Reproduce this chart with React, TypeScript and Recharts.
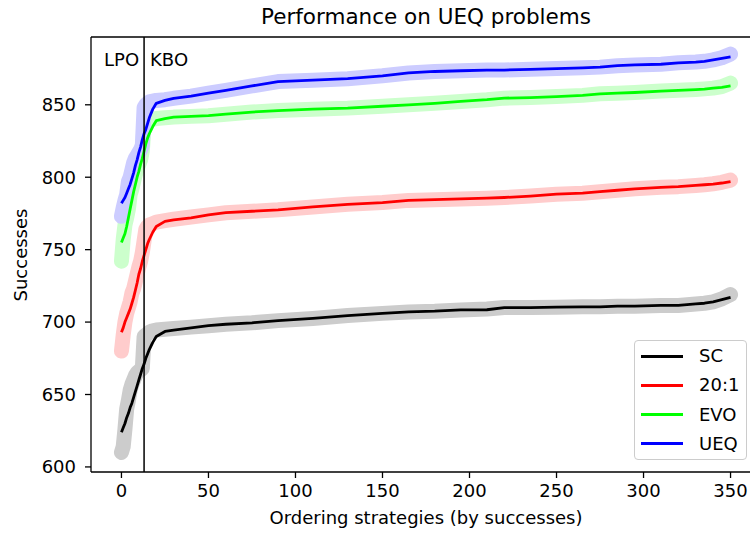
import React from 'react';
import {
  ComposedChart,
  Line,
  XAxis,
  YAxis,
  ReferenceLine,
} from 'recharts';

// ordering strategies, sorted by successes (sampled positions)
const xPositions = [
  0, 1, 2, 3, 4, 5, 6, 7, 8, 9, 10, 11, 12, 13, 14, 15, 16,
  18, 20, 25, 30, 40, 50, 60, 75, 90,
  110, 130, 150, 165, 180, 195, 210, 220, 235, 250,
  265, 275, 285, 295, 310, 320, 330, 335, 340, 345, 350,
];

// raw successes (scatter band)
const scDots = [
  610, 614, 626, 640, 646, 653, 657, 660, 663, 665, 666, 667, 668, 690, 691, 692, 693,
  694, 694.5, 695, 695.5, 696.5, 697.5, 698.5, 699.5, 701,
  702.5, 704.5, 706, 707, 707.5, 708.4, 709, 710, 710, 710.3,
  710.5, 710.5, 711, 711, 711.5, 711.5, 712.5, 713, 714, 716, 719,
];
const ratioDots = [
  680, 691, 700, 706, 710, 714, 720, 723, 728, 733, 738, 742, 748, 756, 764, 766, 767,
  768, 769, 770, 771, 772.5, 774, 775.5, 776.5, 777.5,
  779.5, 781.3, 782.5, 784, 784.5, 785, 785.5, 786, 787, 788.3,
  789, 790, 791, 792, 793, 793.5, 794.3, 794.8, 795.5, 796.5, 798,
];
const evoDots = [
  742, 757, 767, 772, 778, 788, 792, 797, 802, 806, 809, 812, 818, 836, 838, 839, 839.5,
  840, 840.5, 841, 841.5, 842, 842.5, 843.5, 845, 846,
  847, 847.7, 849, 850, 851, 852.3, 853.5, 854.6, 855, 855.7,
  856.5, 857.6, 858, 858.5, 859.5, 860, 860.5, 861, 861.5, 862.5, 865,
];
const ueqDots = [
  773, 779, 784, 788, 797, 800, 805, 810, 813, 815, 817, 819, 822, 848, 850, 851, 852,
  852.5, 853, 853.5, 854.5, 856, 858, 860, 863, 866,
  867, 868, 870, 872, 873, 873.5, 874, 874, 874.5, 875,
  875.5, 876, 877, 877.5, 878, 879, 879.5, 880, 881, 882.5, 885,
];

// smoothed curves
const scLine = [
  624, 627, 630, 634, 637, 641, 644, 648, 652, 656, 660, 664, 668, 671, 675, 678, 681,
  686, 690, 693.5, 694.5, 696, 697.5, 698.5, 699.5, 701,
  702.5, 704.5, 706, 707, 707.5, 708.4, 708.5, 710, 710, 710.3,
  710.5, 710.5, 711, 711, 711.5, 711.5, 712.5, 713, 714, 715.5, 717,
];
const ratioLine = [
  693, 696, 700, 703, 706, 709, 713, 717, 722, 727, 733, 737, 742, 746, 750, 754, 757,
  762, 766, 769.5, 770.5, 772, 774, 775.5, 776.5, 777.5,
  779.5, 781.3, 782.5, 784, 784.5, 785, 785.5, 786, 787, 788.3,
  789, 790, 791, 792, 793, 793.5, 794.3, 794.8, 795.3, 796, 797,
];
const evoLine = [
  755, 758, 761, 766, 772, 778, 784, 790, 795, 800, 804, 809, 813, 818, 823, 827, 830,
  835, 839, 840.5, 841.5, 842, 842.5, 843.5, 845, 846,
  847, 847.7, 849, 850, 851, 852.3, 853.5, 854.6, 855, 855.7,
  856.5, 857.6, 858, 858.5, 859.5, 860, 860.5, 860.8, 861.5, 862, 863,
];
const ueqLine = [
  782, 784, 786, 789, 792, 795, 799, 803, 808, 812, 817, 821, 826, 830, 833, 837, 841,
  847, 851, 853, 854.5, 856, 858, 860, 863, 866,
  867, 868, 870, 872, 873, 873.5, 874, 874, 874.5, 875,
  875.5, 876, 877, 877.5, 878, 879, 879.5, 880, 881, 882, 883,
];

const xTicks = [0, 50, 100, 150, 200, 250, 300, 350];
const yTicks = [600, 650, 700, 750, 800, 850];
const xDomain = [-17.5, 367.5];
const yDomain = [596.5, 896.8];
const splitAt = 13;

const series = [
  { name: 'SC', dot: 'scDot', line: 'scLine', color: '#000000', light: '#cccccc' },
  { name: '20:1', dot: 'ratioDot', line: 'ratioLine', color: '#ff0000', light: '#ffcccc' },
  { name: 'EVO', dot: 'evoDot', line: 'evoLine', color: '#00ff00', light: '#ccffcc' },
  { name: 'UEQ', dot: 'ueqDot', line: 'ueqLine', color: '#0000ff', light: '#ccccff' },
];

const chartData = xPositions.map((x, i) => ({
  x,
  scDot: scDots[i],
  ratioDot: ratioDots[i],
  evoDot: evoDots[i],
  ueqDot: ueqDots[i],
  scLine: scLine[i],
  ratioLine: ratioLine[i],
  evoLine: evoLine[i],
  ueqLine: ueqLine[i],
}));

const FONT = '"DejaVu Sans", sans-serif';
const tickStyle = { fontFamily: FONT, fontSize: 18, fill: '#000' };

function SplitLabel(props: any) {
  const { viewBox } = props;
  const x = viewBox.x;
  const y = viewBox.y + 29;
  return (
    <g fontFamily={FONT} fontSize={18} fill="#000">
      <text x={x - 5} y={y} textAnchor="end">LPO</text>
      <text x={x + 6} y={y} textAnchor="start">KBO</text>
    </g>
  );
}

export default function App() {
  return (
    <div
      style={{
        position: 'absolute',
        left: 0,
        top: 0,
        width: 750,
        height: 537,
        overflow: 'hidden',
        background: '#fff',
        fontFamily: FONT,
      }}
    >
      <ComposedChart
        width={775}
        height={537}
        data={chartData}
        margin={{ top: 37, right: 14, bottom: 0, left: 0 }}
      >
        <XAxis
          dataKey="x"
          type="number"
          domain={xDomain}
          ticks={xTicks}
          interval={0}
          allowDataOverflow
          height={65}
          tick={tickStyle}
          tickSize={6}
          tickMargin={6}
          axisLine={{ stroke: '#000', strokeWidth: 1.3 }}
          tickLine={{ stroke: '#000', strokeWidth: 1.3 }}
        />
        <YAxis
          type="number"
          domain={yDomain}
          ticks={yTicks}
          interval={0}
          allowDataOverflow
          width={91}
          tick={tickStyle}
          tickSize={6}
          tickMargin={9}
          axisLine={{ stroke: '#000', strokeWidth: 1.3 }}
          tickLine={{ stroke: '#000', strokeWidth: 1.3 }}
        />
        <ReferenceLine y={yDomain[1]} stroke="#000" strokeWidth={1.3} />
        {series.map((s) => (
          <Line
            key={s.dot}
            dataKey={s.dot}
            type="linear"
            stroke={s.light}
            strokeWidth={15}
            strokeLinecap="round"
            strokeLinejoin="round"
            dot={false}
            activeDot={false}
            isAnimationActive={false}
          />
        ))}
        {series.map((s) => (
          <Line
            key={s.line}
            dataKey={s.line}
            type="linear"
            stroke={s.color}
            strokeWidth={2.8}
            strokeLinejoin="round"
            dot={false}
            activeDot={false}
            isAnimationActive={false}
          />
        ))}
        <ReferenceLine
          x={splitAt}
          stroke="#000"
          strokeWidth={1.5}
          label={(p: any) => <SplitLabel {...p} />}
        />
      </ComposedChart>

      <div
        style={{
          position: 'absolute',
          left: 0,
          width: 852,
          top: 4,
          textAlign: 'center',
          fontSize: 21.5,
          color: '#000',
        }}
      >
        Performance on UEQ problems
      </div>
      <div
        style={{
          position: 'absolute',
          left: 0,
          width: 852,
          top: 507,
          textAlign: 'center',
          fontSize: 18,
          color: '#000',
        }}
      >
        Ordering strategies (by successes)
      </div>
      <div
        style={{
          position: 'absolute',
          left: 20,
          top: 255,
          transform: 'translate(-50%, -50%) rotate(-90deg)',
          fontSize: 18,
          color: '#000',
          whiteSpace: 'nowrap',
        }}
      >
        Successes
      </div>

      <div
        style={{
          position: 'absolute',
          left: 634,
          top: 340,
          width: 113,
          height: 120,
          border: '1px solid #cccccc',
          borderRadius: 4,
          background: 'rgba(255,255,255,0.8)',
          boxSizing: 'border-box',
        }}
      >
        {series.map((s, i) => (
          <div
            key={s.name}
            style={{
              position: 'absolute',
              left: 6,
              top: 4 + i * 29.3,
              height: 22,
              display: 'flex',
              alignItems: 'center',
            }}
          >
            <div style={{ width: 42, height: 3, background: s.color }} />
            <span style={{ marginLeft: 16, fontSize: 18, lineHeight: '22px' }}>{s.name}</span>
          </div>
        ))}
      </div>
    </div>
  );
}
